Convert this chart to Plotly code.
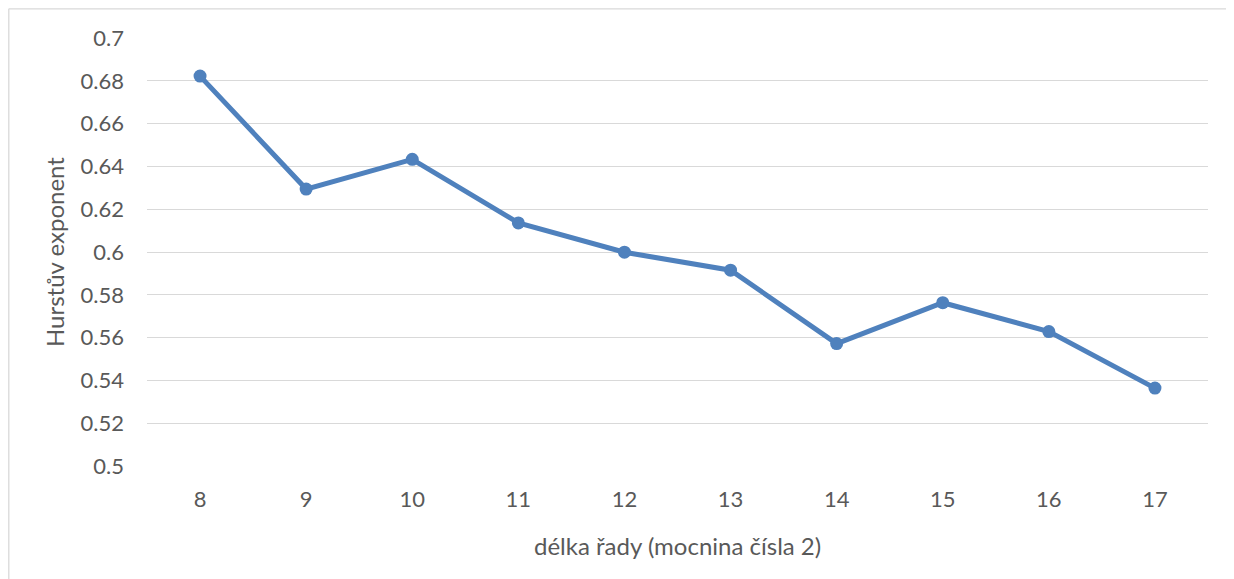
import plotly.graph_objects as go

categories = ["8", "9", "10", "11", "12", "13", "14", "15", "16", "17"]
hurst_values = [0.6822, 0.6294, 0.6433, 0.6136, 0.5999, 0.5915, 0.5572, 0.5763, 0.5628, 0.5364]
y_ticks = [0.5, 0.52, 0.54, 0.56, 0.58, 0.6, 0.62, 0.64, 0.66, 0.68, 0.7]
y_tick_labels = ["0.5", "0.52", "0.54", "0.56", "0.58", "0.6", "0.62", "0.64", "0.66", "0.68", "0.7"]

FONT = "Lato, 'Open Sans', sans-serif"
TXT = "#595959"
BLUE = "#4F81BD"
BORDER = "#D9D9D9"

# page has an 8px body margin; plot area targeted at x 147..1208, y 38..466 on screen
L, T = 139, 30
PW, PH = 1061, 428
W, H = 1234, 579

fig = go.Figure()
fig.add_trace(go.Scatter(
    x=categories, y=hurst_values, mode="lines+markers",
    line=dict(color=BLUE, width=5),
    marker=dict(color=BLUE, size=13),
    showlegend=False, hoverinfo="x+y",
))

bx0 = (0.8 - L) / PW
by1 = 1 + (T - 0.8) / PH

fig.update_layout(
    width=W, height=H,
    margin=dict(l=L, r=W - L - PW, t=T, b=H - T - PH),
    paper_bgcolor="white", plot_bgcolor="white",
    font=dict(family=FONT, color=TXT, size=22),
    xaxis=dict(type="category", range=[-0.5, 9.5], showgrid=False, zeroline=False,
               showline=False, ticks="", tickfont=dict(size=22, color=TXT, family=FONT),
               ticklabelstandoff=18, fixedrange=True),
    yaxis=dict(range=[0.5, 0.7], tickvals=y_ticks, ticktext=y_tick_labels,
               showgrid=True, gridcolor=BORDER, gridwidth=1.3, zeroline=False,
               showline=False, ticks="", tickfont=dict(size=22, color=TXT, family=FONT),
               ticklabelstandoff=22, fixedrange=True),
    shapes=[
        dict(type="line", xref="paper", yref="paper", x0=bx0, x1=bx0, y0=-0.5, y1=by1,
             line=dict(color=BORDER, width=1.3), layer="below"),
        dict(type="line", xref="paper", yref="paper", x0=bx0, x1=1.3, y0=by1, y1=by1,
             line=dict(color=BORDER, width=1.3), layer="below"),
    ],
    annotations=[
        dict(text="délka řady (mocnina čísla 2)", xref="paper", yref="paper",
             x=0.5, y=-(545 - 466) / PH, xanchor="center", yanchor="middle",
             showarrow=False, font=dict(size=24, color=TXT, family=FONT)),
        dict(text="Hurstův exponent", xref="paper", yref="paper",
             x=(54 - 147) / PW, y=0.5, xanchor="center", yanchor="middle", textangle=-90,
             showarrow=False, font=dict(size=24, color=TXT, family=FONT)),
    ],
)

fig.write_html("out.html")
